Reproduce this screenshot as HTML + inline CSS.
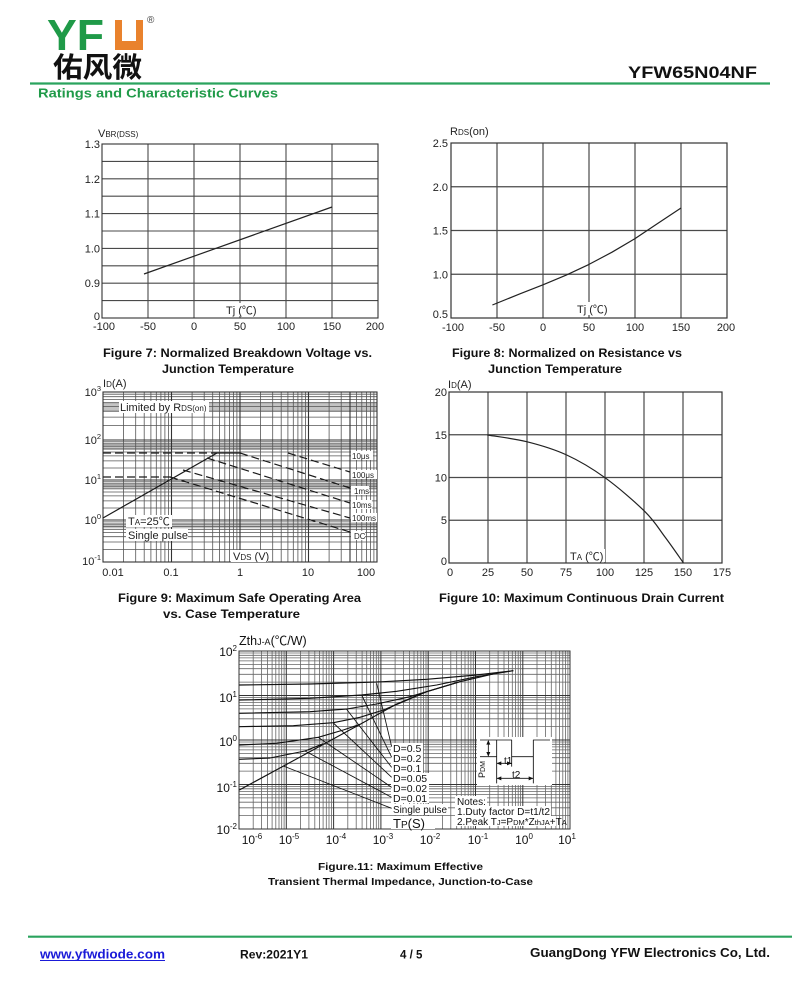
<!DOCTYPE html>
<html><head><meta charset="utf-8">
<style>
html,body{margin:0;padding:0;background:#fff;}
svg{display:block;}
text{font-family:"Liberation Sans","Noto Sans CJK SC",sans-serif;}
</style></head>
<body>
<svg width="800" height="990" viewBox="0 0 800 990" xmlns="http://www.w3.org/2000/svg">
<rect width="800" height="990" fill="#fff"/>

<!-- ===== HEADER ===== -->
<text x="47" y="50" font-size="44" font-weight="bold" fill="#1f9a48" textLength="57" lengthAdjust="spacingAndGlyphs">YF</text>
<path d="M115 20H122V41H136V20H143V50H115Z" fill="#e9822d"/>
<text x="147" y="23" font-size="10" fill="#444">®</text>
<text x="53" y="77" font-size="28" font-weight="bold" fill="#111" font-family="'Noto Sans CJK SC',sans-serif" textLength="89" lengthAdjust="spacingAndGlyphs">佑风微</text>
<text x="628" y="78" font-size="17" font-weight="bold" fill="#111" textLength="129" lengthAdjust="spacingAndGlyphs">YFW65N04NF</text>
<line x1="30" y1="83.5" x2="770" y2="83.5" stroke="#2aa35e" stroke-width="2.2"/>
<text x="38" y="97.5" font-size="13" font-weight="bold" fill="#1f9a48" textLength="240" lengthAdjust="spacingAndGlyphs">Ratings and Characteristic Curves</text>

<!-- ===== FIGURE 7 ===== -->
<g stroke="#4a4a4a" stroke-width="1.1" fill="none">
<path d="M148 144V318M194 144V318M240 144V318M286 144V318M332 144V318"/>
<path d="M102 161.4H378M102 178.8H378M102 196.2H378M102 213.6H378M102 231H378M102 248.4H378M102 265.8H378M102 283.2H378M102 300.6H378"/>
<rect x="102" y="144" width="276" height="174" stroke="#333"/>
</g>
<polyline points="144,274 332,207" fill="none" stroke="#222" stroke-width="1.2"/>
<g font-size="11" fill="#222" text-anchor="end">
<text x="100" y="148">1.3</text><text x="100" y="182.8">1.2</text><text x="100" y="217.6">1.1</text>
<text x="100" y="252.4">1.0</text><text x="100" y="287.2">0.9</text><text x="100" y="320">0</text>
</g>
<g font-size="11" fill="#222" text-anchor="middle">
<text x="104" y="330">-100</text><text x="148" y="330">-50</text><text x="194" y="330">0</text>
<text x="240" y="330">50</text><text x="286" y="330">100</text><text x="332" y="330">150</text><text x="375" y="330">200</text>
</g>
<text x="98" y="137" font-size="11" fill="#222">V<tspan font-size="8">BR(DSS)</tspan></text>
<rect x="224" y="303" width="35" height="13" fill="#fff"/>
<text x="226" y="314" font-size="11" fill="#222">Tj (℃)</text>
<text x="103" y="357" font-size="11.5" font-weight="bold" fill="#111" textLength="269" lengthAdjust="spacingAndGlyphs">Figure 7: Normalized Breakdown Voltage vs.</text>
<text x="162" y="373" font-size="11.5" font-weight="bold" fill="#111" textLength="132" lengthAdjust="spacingAndGlyphs">Junction Temperature</text>

<!-- ===== FIGURE 8 ===== -->
<g stroke="#4a4a4a" stroke-width="1.2" fill="none">
<path d="M497 143V318M543 143V318M589 143V318M635 143V318M681 143V318"/>
<path d="M451 186.75H727M451 230.5H727M451 274.25H727"/>
<rect x="451" y="143" width="276" height="175" stroke="#333"/>
</g>
<polyline points="492.4,305 520,293.8 543,284.8 566,275.2 589,264.4 612,252.2 635,238.6 658,223.2 681,208" fill="none" stroke="#222" stroke-width="1.2" stroke-linejoin="round"/>
<g font-size="11" fill="#222" text-anchor="end">
<text x="448" y="147">2.5</text><text x="448" y="190.75">2.0</text><text x="448" y="234.5">1.5</text>
<text x="448" y="278.25">1.0</text><text x="448" y="318">0.5</text>
</g>
<g font-size="11" fill="#222" text-anchor="middle">
<text x="453" y="331">-100</text><text x="497" y="331">-50</text><text x="543" y="331">0</text>
<text x="589" y="331">50</text><text x="635" y="331">100</text><text x="681" y="331">150</text><text x="726" y="331">200</text>
</g>
<text x="450" y="135" font-size="11" fill="#222">R<tspan font-size="8">DS</tspan>(on)</text>
<rect x="575" y="302" width="35" height="13" fill="#fff"/>
<text x="577" y="313" font-size="11" fill="#222">Tj (℃)</text>
<text x="452" y="357" font-size="11.5" font-weight="bold" fill="#111" textLength="230" lengthAdjust="spacingAndGlyphs">Figure 8: Normalized on Resistance vs</text>
<text x="488" y="373" font-size="11.5" font-weight="bold" fill="#111" textLength="134" lengthAdjust="spacingAndGlyphs">Junction Temperature</text>

<!-- ===== FIGURE 9 ===== -->
<g fill="#c4c4c4">
<rect x="103" y="403" width="274" height="9"/>
<rect x="103" y="443" width="274" height="7"/>
<rect x="103" y="483" width="274" height="6"/>
<rect x="103" y="523" width="274" height="5"/>
</g>
<g stroke="#555" stroke-width="0.8" fill="none">
<path d="M123.6 392V562M135.7 392V562M144.2 392V562M150.9 392V562M156.3 392V562M160.9 392V562M164.9 392V562M168.4 392V562M192.1 392V562M204.2 392V562M212.7 392V562M219.4 392V562M224.8 392V562M229.4 392V562M233.4 392V562M236.9 392V562M260.6 392V562M272.7 392V562M281.2 392V562M287.9 392V562M293.3 392V562M297.9 392V562M301.9 392V562M305.4 392V562M329.1 392V562M341.2 392V562M356.4 392V562M361.8 392V562M366.4 392V562M370.4 392V562M373.9 392V562"/>
<path d="M103 425.6H377M103 417.1H377M103 411.1H377M103 406.4H377M103 402.7H377M103 399.4H377M103 396.7H377M103 394.2H377M103 468H377M103 460.9H377M103 455.9H377M103 452H377M103 448.9H377M103 446.2H377M103 443.9H377M103 441.8H377M103 508H377M103 500.9H377M103 495.9H377M103 492H377M103 488.9H377M103 486.2H377M103 483.9H377M103 481.8H377M103 549.4H377M103 542H377M103 536.7H377M103 532.6H377M103 529.3H377M103 526.5H377M103 524.1H377M103 521.9H377"/>
</g>
<g stroke="#333" stroke-width="1.1" fill="none">
<path d="M171.5 392V562M240 392V562M308.5 392V562M350 392V562M103 440H377M103 480H377M103 520H377"/>
<rect x="103" y="392" width="274" height="170"/>
</g>
<g fill="none" stroke="#1a1a1a" stroke-width="1.2">
<path d="M103 518L217 453H240"/>
<path stroke-dasharray="8 4" d="M103 453H217M103 477H172M240 453L350 488M288 453L350 472M207 458L350 503M183 470L350 518M170 477L350 532"/>
</g>
<g fill="#fff">
<rect x="351" y="451" width="22" height="9"/><rect x="351" y="470" width="26" height="9"/>
<rect x="351" y="486" width="18" height="9"/><rect x="351" y="500" width="21" height="9"/>
<rect x="351" y="513" width="26" height="9"/><rect x="351" y="531" width="14" height="9"/>
<rect x="119" y="401" width="90" height="12"/><rect x="126" y="515" width="46" height="12"/>
<rect x="126" y="529" width="62" height="12"/><rect x="231" y="550" width="37" height="12"/>
</g>
<g font-size="8" fill="#222">
<text x="352" y="459">10μs</text><text x="352" y="478">100μs</text><text x="354" y="494">1ms</text>
<text x="352" y="508">10ms</text><text x="352" y="521">100ms</text><text x="354" y="539">DC</text>
</g>
<text x="120" y="411" font-size="11" fill="#222">Limited by R<tspan font-size="8">DS(on)</tspan></text>
<text x="128" y="525" font-size="11" fill="#222">T<tspan font-size="8">A</tspan>=25℃</text>
<text x="128" y="539" font-size="11" fill="#222">Single pulse</text>
<text x="233" y="560" font-size="11" fill="#222">V<tspan font-size="8">DS</tspan> (V)</text>
<text x="103" y="387" font-size="11" fill="#222">I<tspan font-size="8">D</tspan>(A)</text>
<g font-size="11" fill="#222" text-anchor="end">
<text x="101" y="396">10<tspan font-size="7.5" dy="-5">3</tspan></text>
<text x="101" y="444">10<tspan font-size="7.5" dy="-5">2</tspan></text>
<text x="101" y="484">10<tspan font-size="7.5" dy="-5">1</tspan></text>
<text x="101" y="524">10<tspan font-size="7.5" dy="-5">0</tspan></text>
<text x="101" y="565">10<tspan font-size="7.5" dy="-5">-1</tspan></text>
</g>
<g font-size="11" fill="#222" text-anchor="middle">
<text x="113" y="576">0.01</text><text x="171" y="576">0.1</text><text x="240" y="576">1</text>
<text x="308" y="576">10</text><text x="366" y="576">100</text>
</g>
<text x="118" y="602" font-size="11.5" font-weight="bold" fill="#111" textLength="243" lengthAdjust="spacingAndGlyphs">Figure 9: Maximum Safe Operating Area</text>
<text x="163" y="618" font-size="11.5" font-weight="bold" fill="#111" textLength="137" lengthAdjust="spacingAndGlyphs">vs. Case Temperature</text>

<!-- ===== FIGURE 10 ===== -->
<g stroke="#4a4a4a" stroke-width="1.2" fill="none">
<path d="M488 392V563M527 392V563M566 392V563M605 392V563M644 392V563M683 392V563"/>
<path d="M449 434.75H722M449 477.5H722M449 520.25H722"/>
<rect x="449" y="392" width="273" height="171" stroke="#333"/>
</g>
<path d="M487.3 435C493.9 436.1 513.5 438.4 526.7 441.7C539.9 445 553.65 449 566.7 455C579.75 461 591.95 468.25 605 477.7C618.05 487.15 635 501.8 645 511.7C655 521.6 658.6 528.5 665 537C671.4 545.5 680.25 558.4 683.3 562.7" fill="none" stroke="#222" stroke-width="1.2"/>
<text x="448" y="388" font-size="11" fill="#222">I<tspan font-size="8">D</tspan>(A)</text>
<g font-size="11" fill="#222" text-anchor="end">
<text x="447" y="396">20</text><text x="447" y="439">15</text><text x="447" y="481.5">10</text>
<text x="447" y="524">5</text><text x="447" y="565">0</text>
</g>
<g font-size="11" fill="#222" text-anchor="middle">
<text x="450" y="576">0</text><text x="488" y="576">25</text><text x="527" y="576">50</text><text x="566" y="576">75</text>
<text x="605" y="576">100</text><text x="644" y="576">125</text><text x="683" y="576">150</text><text x="722" y="576">175</text>
</g>
<rect x="568" y="549" width="37" height="13" fill="#fff"/>
<text x="570" y="560" font-size="11" fill="#222">T<tspan font-size="8">A</tspan> (℃)</text>
<text x="439" y="602" font-size="11.5" font-weight="bold" fill="#111" textLength="285" lengthAdjust="spacingAndGlyphs">Figure 10: Maximum Continuous Drain Current</text>

<!-- ===== FIGURE 11 ===== -->
<g stroke="#666" stroke-width="0.8" fill="none">
<path d="M253.2 651V829M261.6 651V829M267.5 651V829M272.1 651V829M275.8 651V829M279 651V829M281.7 651V829M284.1 651V829M300.5 651V829M308.9 651V829M314.8 651V829M319.4 651V829M323.1 651V829M326.3 651V829M329 651V829M331.4 651V829M347.8 651V829M356.2 651V829M362.1 651V829M366.7 651V829M370.4 651V829M373.6 651V829M376.3 651V829M378.7 651V829M395.1 651V829M403.5 651V829M409.4 651V829M414 651V829M417.7 651V829M420.9 651V829M423.6 651V829M426 651V829M442.4 651V829M450.8 651V829M456.7 651V829M461.3 651V829M465 651V829M468.2 651V829M470.9 651V829M473.3 651V829M489.7 651V829M498.1 651V829M504 651V829M508.6 651V829M512.3 651V829M515.5 651V829M518.2 651V829M520.6 651V829M537 651V829M545.4 651V829M551.3 651V829M555.9 651V829M559.6 651V829M562.8 651V829M565.5 651V829M567.9 651V829"/>
<path d="M239 682.1H570M239 674.3H570M239 668.7H570M239 664.4H570M239 660.9H570M239 657.9H570M239 655.3H570M239 653H570M239 726.6H570M239 718.8H570M239 713.2H570M239 708.9H570M239 705.4H570M239 702.4H570M239 699.8H570M239 697.5H570M239 771.1H570M239 763.3H570M239 757.7H570M239 753.4H570M239 749.9H570M239 746.9H570M239 744.3H570M239 742H570M239 815.6H570M239 807.8H570M239 802.2H570M239 797.9H570M239 794.4H570M239 791.4H570M239 788.8H570M239 786.5H570"/>
</g>
<g stroke="#333" stroke-width="1" fill="none">
<path d="M286.3 651V829M333.6 651V829M380.9 651V829M428.2 651V829M475.5 651V829M522.8 651V829M239 695.5H570M239 740H570M239 784.5H570"/>
<rect x="239" y="651" width="331" height="178"/>
</g>
<!-- white boxes behind annotations -->
<g fill="#fff">
<rect x="477" y="737" width="75" height="48"/>
<rect x="391" y="743" width="32" height="10"/><rect x="391" y="753" width="32" height="10"/>
<rect x="391" y="763" width="32" height="10"/><rect x="391" y="773" width="38" height="10"/>
<rect x="391" y="783" width="38" height="10"/><rect x="391" y="793" width="38" height="10"/>
<rect x="391" y="804" width="57" height="11"/><rect x="391" y="816" width="44" height="13"/>
<rect x="455" y="796" width="32" height="10"/><rect x="455" y="806" width="96" height="10"/>
<rect x="455" y="816" width="101" height="10"/>
</g>
<g transform="translate(210 630) scale(0.333333)" fill="none" stroke="#111" stroke-width="3.4" stroke-linejoin="round">
<polyline points="88,480 300,365 450,283 560,222 650,185 750,155 850,132 910,122"/>
<polyline points="88,165 300,162 500,156 650,148 800,135 910,122"/>
<polyline points="88,210 300,205 455,195 560,184 680,165 800,140 850,132"/>
<polyline points="88,250 300,245 410,237 500,222 600,200 700,170 750,155"/>
<polyline points="88,290 250,287 370,278 450,262 520,240 580,215 650,185"/>
<polyline points="88,345 200,340 325,322 400,300 450,283"/>
<polyline points="88,388 180,384 285,363 340,341"/>
<g stroke-width="2.6">
<path d="M545 350L500 160M545 382L455 195M545 412L410 238M545 442L370 279M545 472L325 322M545 502L285 363M545 535L220 408"/>
<path d="M860 380V330H905V380H970V330H1020M810 380H860M810 330H860M860 380V460M905 380V410M970 380V460"/>
<path d="M835 333V377M860 400H905M860 445H970"/>
</g>
<path d="M835 330l-6 14h12zM835 380l-6 -14h12zM860 400l14 -6v12zM905 400l-14 -6v12zM860 445l14 -6v12zM970 445l-14 -6v12z" fill="#111" stroke="none"/>
</g>
<text x="504" y="764" font-size="10" fill="#111">t1</text>
<text x="512" y="778" font-size="10" fill="#111">t2</text>
<text transform="translate(485 778) rotate(-90)" font-size="9" fill="#111">P<tspan font-size="7">DM</tspan></text>
<g font-size="10.5" fill="#111">
<text x="393" y="752">D=0.5</text><text x="393" y="762">D=0.2</text><text x="393" y="772">D=0.1</text>
<text x="393" y="782">D=0.05</text><text x="393" y="792">D=0.02</text><text x="393" y="802">D=0.01</text>
<text x="393" y="813" textLength="54" lengthAdjust="spacingAndGlyphs">Single pulse</text>
</g>
<text x="393" y="828" font-size="13" fill="#111">T<tspan font-size="10">P</tspan>(S)</text>
<g font-size="10" fill="#111">
<text x="457" y="805">Notes:</text>
<text x="457" y="815" textLength="93" lengthAdjust="spacingAndGlyphs">1.Duty factor D=t1/t2</text>
<text x="457" y="825">2.Peak T<tspan font-size="7.5">J</tspan>=P<tspan font-size="7.5">DM</tspan>*Z<tspan font-size="7.5">thJA</tspan>+T<tspan font-size="7.5">A</tspan></text>
</g>
<text x="239" y="645" font-size="12.5" fill="#111">Zth<tspan font-size="9">J-A</tspan>(℃/W)</text>
<g font-size="12" fill="#111" text-anchor="end">
<text x="237" y="656">10<tspan font-size="8" dy="-5">2</tspan></text>
<text x="237" y="702">10<tspan font-size="8" dy="-5">1</tspan></text>
<text x="237" y="746">10<tspan font-size="8" dy="-5">0</tspan></text>
<text x="237" y="792">10<tspan font-size="8" dy="-5">-1</tspan></text>
<text x="237" y="834">10<tspan font-size="8" dy="-5">-2</tspan></text>
</g>
<g font-size="12" fill="#111" text-anchor="middle">
<text x="252" y="844">10<tspan font-size="8" dy="-5">-6</tspan></text>
<text x="289" y="844">10<tspan font-size="8" dy="-5">-5</tspan></text>
<text x="336" y="844">10<tspan font-size="8" dy="-5">-4</tspan></text>
<text x="383" y="844">10<tspan font-size="8" dy="-5">-3</tspan></text>
<text x="430" y="844">10<tspan font-size="8" dy="-5">-2</tspan></text>
<text x="478" y="844">10<tspan font-size="8" dy="-5">-1</tspan></text>
<text x="524" y="844">10<tspan font-size="8" dy="-5">0</tspan></text>
<text x="567" y="844">10<tspan font-size="8" dy="-5">1</tspan></text>
</g>
<text x="318" y="870" font-size="10.5" font-weight="bold" fill="#111" textLength="165" lengthAdjust="spacingAndGlyphs">Figure.11: Maximum Effective</text>
<text x="268" y="885" font-size="10.5" font-weight="bold" fill="#111" textLength="265" lengthAdjust="spacingAndGlyphs">Transient Thermal Impedance, Junction-to-Case</text>

<!-- ===== FOOTER ===== -->
<line x1="28" y1="936.7" x2="792" y2="936.7" stroke="#2aa35e" stroke-width="2.2"/>
<text x="40" y="958.5" font-size="12.5" font-weight="bold" fill="#1a1ad8" textLength="125" lengthAdjust="spacingAndGlyphs">www.yfwdiode.com</text>
<line x1="40" y1="960.5" x2="165" y2="960.5" stroke="#1a1ad8" stroke-width="1"/>
<text x="240" y="958.5" font-size="11.5" font-weight="bold" fill="#111" textLength="68" lengthAdjust="spacingAndGlyphs">Rev:2021Y1</text>
<text x="400" y="958.5" font-size="11.5" font-weight="bold" fill="#111">4 / 5</text>
<text x="530" y="957" font-size="12.5" font-weight="bold" fill="#111" textLength="240" lengthAdjust="spacingAndGlyphs">GuangDong YFW Electronics Co, Ltd.</text>
</svg>
</body></html>
